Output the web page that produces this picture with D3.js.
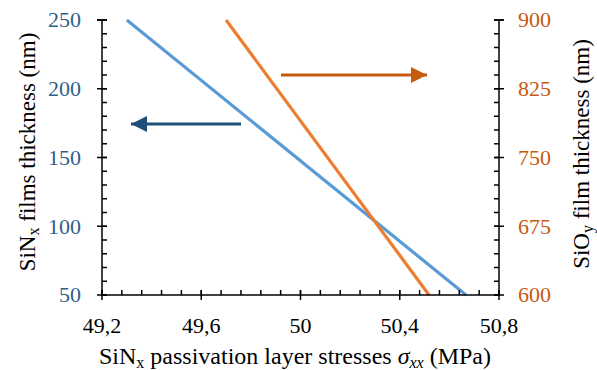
<!DOCTYPE html>
<html>
<head>
<meta charset="utf-8">
<style>
  body { margin: 0; background: #fff; }
</style>
</head>
<body>
<svg width="597" height="370"></svg>
<script src="https://d3js.org/d3.v7.min.js"></script>
<script>
// stress values (MPa) and film thicknesses (nm)
const sinStress = [49.3, 50.667]
const sinThickness = [250, 50]
const sioStress = [49.7, 50.518]
const sioThickness = [900, 600]

const xTicks = [49.2, 49.6, 50.0, 50.4, 50.8]
const xTickLabels = ["49,2", "49,6", "50", "50,4", "50,8"]
const leftTicks = [50, 100, 150, 200, 250]
const rightTicks = [600, 675, 750, 825, 900]

const svg = d3.select("svg")
const m = { left: 102, right: 499, top: 20, bottom: 295 }

const x = d3.scaleLinear().domain([49.2, 50.8]).range([m.left, m.right])
const yL = d3.scaleLinear().domain([50, 250]).range([m.bottom, m.top])
const yR = d3.scaleLinear().domain([600, 900]).range([m.bottom, m.top])

const blueCol = "#5b9bd5", orangeCol = "#ed7d31"
const blueText = "#2e5f8e", orangeText = "#c55a11"
const fs = 22, titleFs = 24, sideFs = 23, subFs = 16
const serif = "'Liberation Serif'"

// plot lines
const lineL = d3.line().x(d => x(d[0])).y(d => yL(d[1]))
const lineR = d3.line().x(d => x(d[0])).y(d => yR(d[1]))

svg.append("path")
  .attr("d", lineL(d3.zip(sinStress, sinThickness)))
  .attr("fill", "none").attr("stroke", blueCol).attr("stroke-width", 3.2)

svg.append("path")
  .attr("d", lineR(d3.zip(sioStress, sioThickness)))
  .attr("fill", "none").attr("stroke", orangeCol).attr("stroke-width", 3.2)

// axes lines and ticks
const ax = svg.append("g").attr("stroke", "#000").attr("stroke-width", 1.5)
ax.append("line").attr("x1", m.left).attr("x2", m.right).attr("y1", m.bottom).attr("y2", m.bottom)
ax.append("line").attr("x1", m.left).attr("x2", m.left).attr("y1", m.top).attr("y2", m.bottom)
ax.append("line").attr("x1", m.right).attr("x2", m.right).attr("y1", m.top).attr("y2", m.bottom)
ax.append("line").attr("x1", m.left - 5).attr("x2", m.left).attr("y1", m.top).attr("y2", m.top)
ax.append("line").attr("x1", m.right).attr("x2", m.right + 5).attr("y1", m.top).attr("y2", m.top)

// minor ticks (inward)
d3.range(49.2, 50.8001, 0.08).forEach(v => {
  ax.append("line").attr("x1", x(v)).attr("x2", x(v)).attr("y1", m.bottom).attr("y2", m.bottom - 5)
})
d3.range(50, 250.001, 10).forEach(v => {
  ax.append("line").attr("x1", m.left).attr("x2", m.left + 5).attr("y1", yL(v)).attr("y2", yL(v))
})
d3.range(600, 900.001, 15).forEach(v => {
  ax.append("line").attr("x1", m.right - 5).attr("x2", m.right).attr("y1", yR(v)).attr("y2", yR(v))
})
// major ticks (cross)
xTicks.forEach(v => {
  ax.append("line").attr("x1", x(v)).attr("x2", x(v)).attr("y1", m.bottom - 5).attr("y2", m.bottom + 5)
})
leftTicks.forEach(v => {
  ax.append("line").attr("x1", m.left - 5).attr("x2", m.left + 5).attr("y1", yL(v)).attr("y2", yL(v))
})
rightTicks.forEach(v => {
  ax.append("line").attr("x1", m.right - 5).attr("x2", m.right + 5).attr("y1", yR(v)).attr("y2", yR(v))
})

// tick labels
svg.append("g").selectAll("text").data(xTicks).join("text")
  .attr("x", d => x(d)).attr("y", m.bottom + 38)
  .attr("text-anchor", "middle").attr("font-size", fs).attr("fill", "#000")
  .style("font-family", serif)
  .text((d, i) => xTickLabels[i])

svg.append("g").selectAll("text").data(leftTicks).join("text")
  .attr("x", m.left - 21).attr("y", d => yL(d)).attr("dy", "0.34em")
  .attr("text-anchor", "end").attr("font-size", fs).attr("fill", blueText)
  .style("font-family", serif)
  .text(d => d)

svg.append("g").selectAll("text").data(rightTicks).join("text")
  .attr("x", m.right + 19).attr("y", d => yR(d)).attr("dy", "0.34em")
  .attr("text-anchor", "start").attr("font-size", fs).attr("fill", orangeText)
  .style("font-family", serif)
  .text(d => d)

// axis titles
const xt = svg.append("text").attr("x", 295).attr("y", 364)
  .attr("text-anchor", "middle").attr("font-size", titleFs).attr("fill", "#000")
  .style("font-family", serif)
xt.append("tspan").text("SiN")
xt.append("tspan").attr("font-size", subFs).attr("dy", 4).text("x")
xt.append("tspan").attr("dy", -4).text(" passivation layer stresses ")
xt.append("tspan").attr("font-style", "italic").text("σ")
xt.append("tspan").attr("font-style", "italic").attr("font-size", subFs).attr("dy", 4).text("xx")
xt.append("tspan").attr("dy", -4).text(" (MPa)")

const lt = svg.append("text").attr("transform", "translate(35,152) rotate(-90)")
  .attr("text-anchor", "middle").attr("font-size", sideFs).attr("fill", "#000")
  .style("font-family", serif)
lt.append("tspan").text("SiN")
lt.append("tspan").attr("font-size", subFs).attr("dy", 4).text("x")
lt.append("tspan").attr("dy", -4).text(" films thickness (nm)")

const rt = svg.append("text").attr("transform", "translate(589,154) rotate(-90)")
  .attr("text-anchor", "middle").attr("font-size", sideFs).attr("fill", "#000")
  .style("font-family", serif)
rt.append("tspan").text("SiO")
rt.append("tspan").attr("font-size", subFs).attr("dy", 4).text("y")
rt.append("tspan").attr("dy", -4).text(" film thickness (nm)")

// arrows
const defs = svg.append("defs")
function marker(id, col) {
  defs.append("marker").attr("id", id).attr("viewBox", "0 0 10 10")
    .attr("refX", 10).attr("refY", 5).attr("markerUnits", "userSpaceOnUse")
    .attr("markerWidth", 16).attr("markerHeight", 16).attr("orient", "auto")
    .append("path").attr("d", "M0,0 L10,5 L0,10 Z").attr("fill", col)
}
marker("arrO", orangeText)
marker("arrB", "#1f4e79")

svg.append("line").attr("x1", 281).attr("y1", 75).attr("x2", 427).attr("y2", 75)
  .attr("stroke", orangeText).attr("stroke-width", 3).attr("marker-end", "url(#arrO)")
svg.append("line").attr("x1", 241).attr("y1", 124).attr("x2", 131).attr("y2", 124)
  .attr("stroke", "#1f4e79").attr("stroke-width", 3).attr("marker-end", "url(#arrB)")
</script>
</body>
</html>
